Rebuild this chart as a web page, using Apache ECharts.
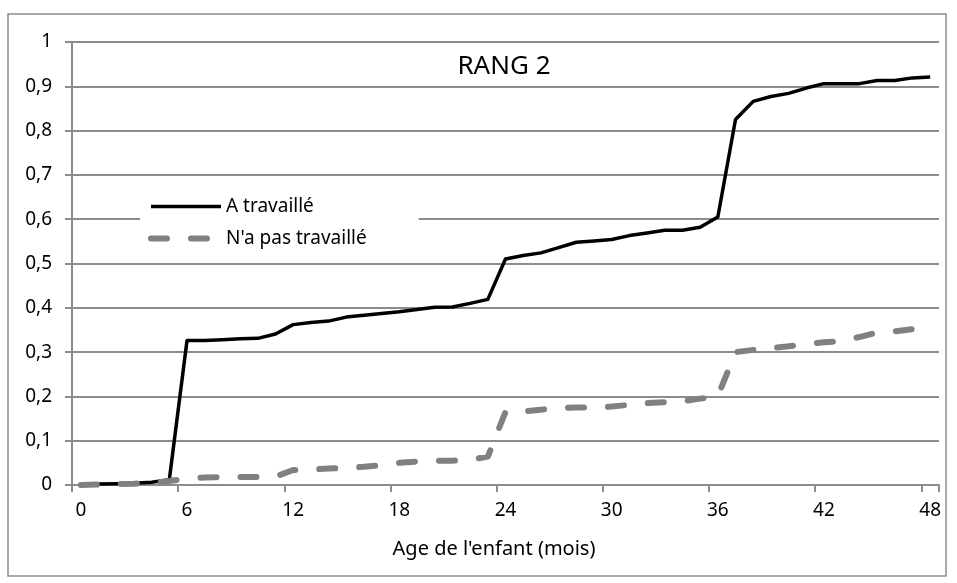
<!DOCTYPE html>
<html>
<head>
<meta charset="utf-8">
<script src="https://cdn.jsdelivr.net/npm/echarts@6/dist/echarts.min.js"></script>
<style>
html,body{margin:0;padding:0;background:#fff;}
#chart{width:957px;height:583px;}
</style>
</head>
<body>
<div id="chart"></div>
<script>
const months = ['0','1','2','3','4','5','6','7','8','9','10','11','12','13','14','15','16','17','18','19','20','21','22','23','24','25','26','27','28','29','30','31','32','33','34','35','36','37','38','39','40','41','42','43','44','45','46','47','48'];
const worked = [0,0.002,0.003,0.004,0.006,0.012,0.326,0.326,0.328,0.33,0.331,0.341,0.362,0.367,0.37,0.379,0.383,0.387,0.391,0.396,0.401,0.402,0.41,0.419,0.51,0.518,0.524,0.536,0.548,0.551,0.554,0.563,0.569,0.575,0.575,0.582,0.605,0.825,0.866,0.877,0.884,0.896,0.906,0.906,0.906,0.913,0.913,0.919,0.921];
const notWorked = [0,0.001,0.002,0.003,0.005,0.009,0.015,0.017,0.018,0.018,0.018,0.019,0.034,0.035,0.037,0.039,0.041,0.045,0.05,0.053,0.055,0.055,0.057,0.064,0.165,0.166,0.17,0.174,0.175,0.175,0.177,0.181,0.185,0.187,0.189,0.195,0.2,0.3,0.305,0.309,0.313,0.318,0.322,0.325,0.334,0.344,0.347,0.352,0.356];
const seriesNames = ['A travaillé', "N'a pas travaillé"];
const chartTitle = 'RANG 2';
const xAxisTitle = "Age de l'enfant (mois)";

const FONT = 'Noto Sans';
const GRID = '#8c8c8c';
const BLACK_LINE = {color: '#000', width: 3.5, join: 'round'};
const GRAY_LINE = {color: '#808080', width: 6, type: [16, 24], cap: 'round', join: 'round'};
const chart = echarts.init(document.getElementById('chart'), null, {renderer: 'canvas'});
chart.setOption({
  animation: false,
  backgroundColor: '#fff',
  textStyle: {fontFamily: FONT, color: '#000'},
  title: [
    {text: chartTitle, left: 499, top: 49, textAlign: 'center',
     textStyle: {fontFamily: FONT, fontSize: 26, fontWeight: 'normal', color: '#000'}},
    {text: xAxisTitle, left: 489, top: 534, textAlign: 'center',
     textStyle: {fontFamily: FONT, fontSize: 20, fontWeight: 'normal', color: '#000'}}
  ],
  graphic: [{
    type: 'rect', shape: {x: 8, y: 14, width: 938, height: 562},
    style: {fill: 'none', stroke: GRID, lineWidth: 1.5}, z: -1, silent: true
  }],
  legend: {
    orient: 'vertical', left: 140, top: 182,
    padding: [15, 52, 8, 8],
    itemGap: 13, itemWidth: 70, itemHeight: 20,
    backgroundColor: '#fff',
    textStyle: {fontFamily: FONT, fontSize: 19, color: '#000'},
    data: [
      {name: seriesNames[0], itemStyle: {opacity: 0}, lineStyle: BLACK_LINE},
      {name: seriesNames[1], itemStyle: {opacity: 0}, lineStyle: GRAY_LINE}
    ]
  },
  grid: {left: 72, right: 18, top: 42, bottom: 98, containLabel: false},
  xAxis: {
    type: 'category', data: months, boundaryGap: true,
    axisLine: {lineStyle: {color: GRID, width: 2}},
    axisTick: {show: true, length: 7, interval: (i) => i % 6 === 0, lineStyle: {color: GRID, width: 2}},
    axisLabel: {interval: (i) => i % 6 === 0, margin: 16, fontFamily: FONT, fontSize: 19, color: '#000'},
    splitLine: {show: false}
  },
  yAxis: {
    type: 'value', min: 0, max: 1, interval: 0.1,
    axisLine: {show: true, lineStyle: {color: GRID, width: 2}},
    axisTick: {show: true, length: 7, lineStyle: {color: GRID, width: 2}},
    axisLabel: {margin: 20, fontFamily: FONT, fontSize: 19, color: '#000',
      formatter: (v) => (Math.abs(v) < 1e-9 ? '0' : Math.abs(v - 1) < 1e-9 ? '1' : v.toFixed(1).replace('.', ','))},
    splitLine: {show: true, lineStyle: {color: GRID, width: 2}}
  },
  series: [
    {name: seriesNames[0], type: 'line', data: worked, symbol: 'none', showSymbol: false,
     lineStyle: BLACK_LINE, itemStyle: {color: '#000'}, z: 3},
    {name: seriesNames[1], type: 'line', data: notWorked, symbol: 'none', showSymbol: false,
     lineStyle: GRAY_LINE, itemStyle: {color: '#808080'}, z: 4}
  ]
});
</script>
</body>
</html>
